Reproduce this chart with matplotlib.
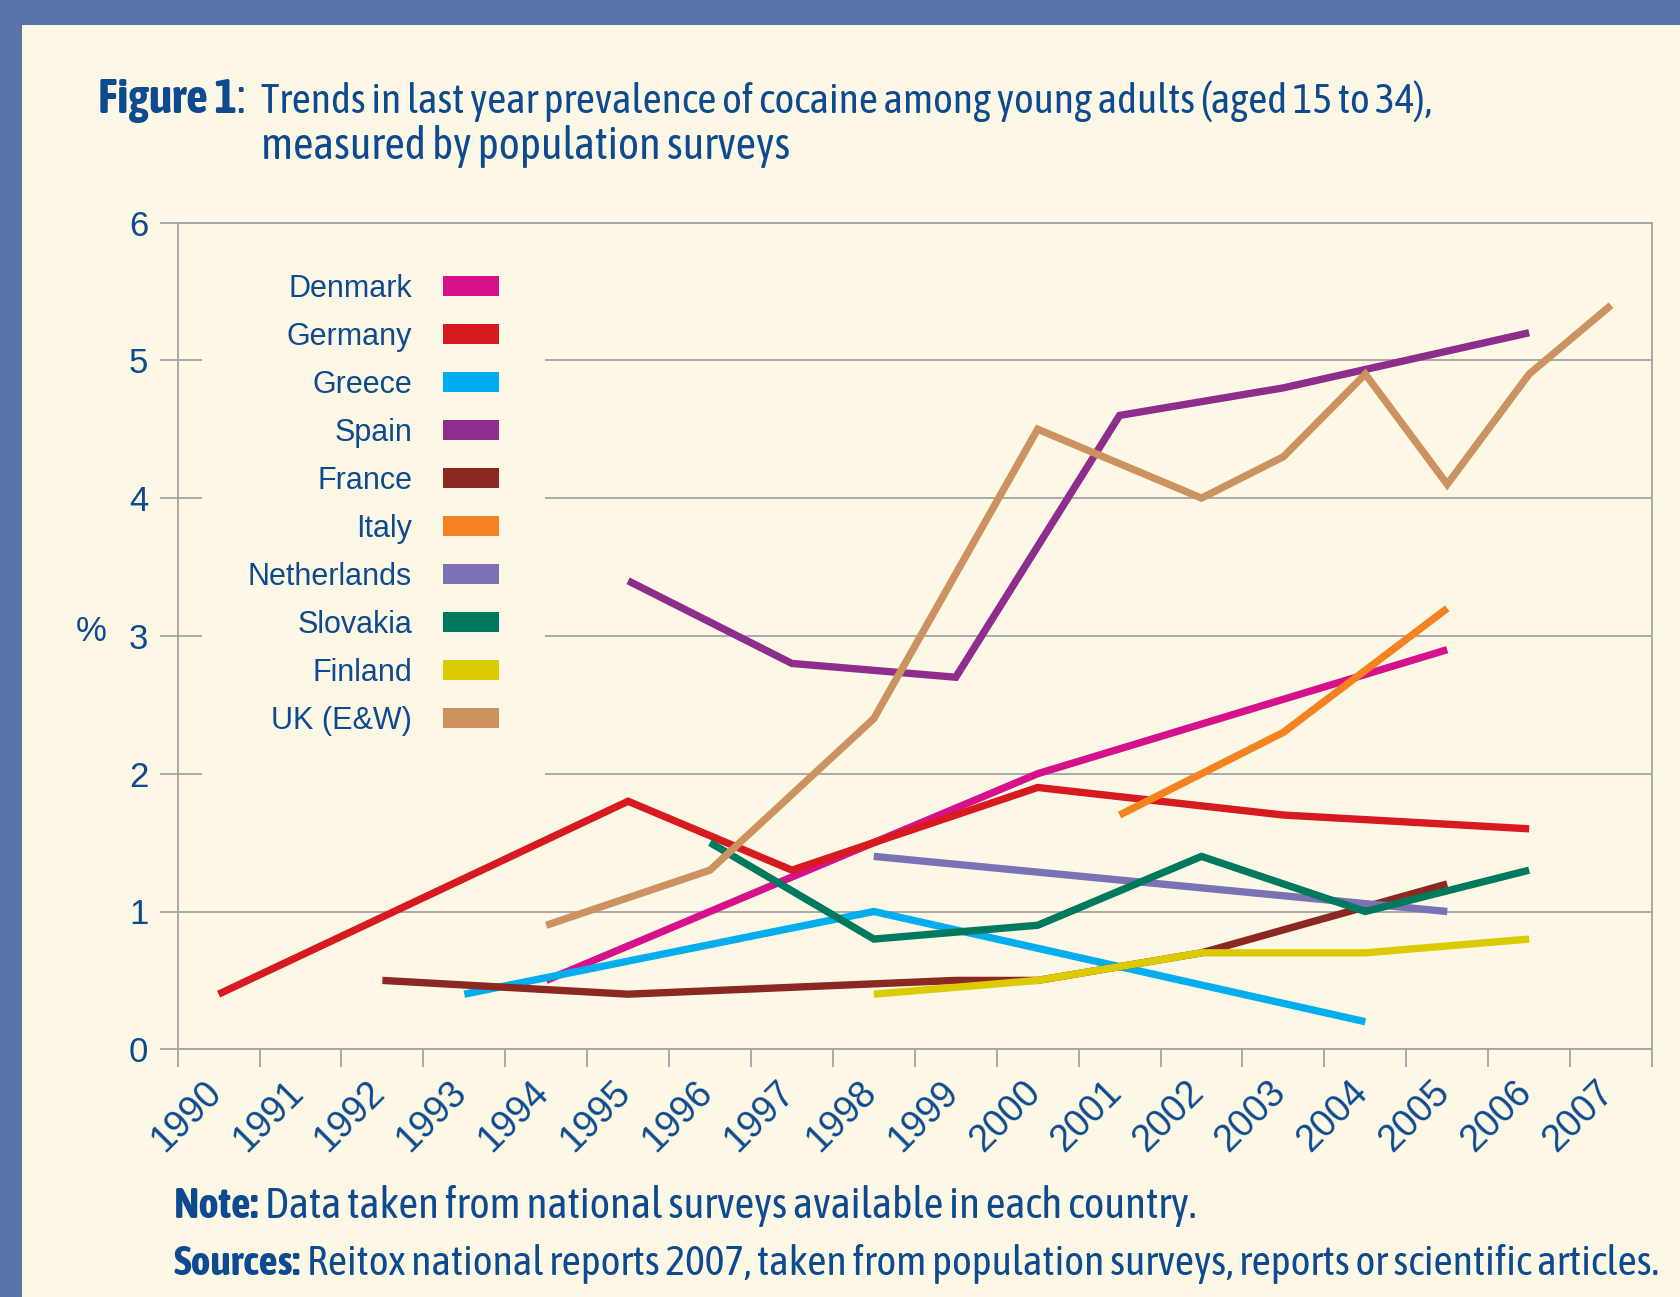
import matplotlib
matplotlib.use('Agg')
import matplotlib.pyplot as plt
from matplotlib import font_manager as fm
from matplotlib.patches import Patch, Rectangle
from matplotlib.transforms import ScaledTranslation

# x axis categories
years = list(range(1990, 2008))
y_ticks = [0, 1, 2, 3, 4, 5, 6]

countries = ['Denmark', 'Germany', 'Greece', 'Spain', 'France', 'Italy',
             'Netherlands', 'Slovakia', 'Finland', 'UK (E&W)']

# survey years and last year prevalence (%) per country
denmark_years = [1994, 2000, 2005]
denmark = [0.5, 2.0, 2.9]
germany_years = [1990, 1995, 1997, 2000, 2003, 2006]
germany = [0.4, 1.8, 1.3, 1.9, 1.7, 1.6]
greece_years = [1993, 1998, 2004]
greece = [0.4, 1.0, 0.2]
spain_years = [1995, 1997, 1999, 2001, 2003, 2006]
spain = [3.4, 2.8, 2.7, 4.6, 4.8, 5.2]
france_years = [1992, 1995, 1999, 2000, 2002, 2005]
france = [0.5, 0.4, 0.5, 0.5, 0.7, 1.2]
italy_years = [2001, 2003, 2005]
italy = [1.7, 2.3, 3.2]
netherlands_years = [1998, 2005]
netherlands = [1.4, 1.0]
slovakia_years = [1996, 1998, 2000, 2002, 2004, 2006]
slovakia = [1.5, 0.8, 0.9, 1.4, 1.0, 1.3]
finland_years = [1998, 2000, 2002, 2004, 2006]
finland = [0.4, 0.5, 0.7, 0.7, 0.8]
uk_years = [1994, 1996, 1998, 2000, 2002, 2003, 2004, 2005, 2006, 2007]
uk = [0.9, 1.3, 2.4, 4.5, 4.0, 4.3, 4.9, 4.1, 4.9, 5.4]

series = [(denmark_years, denmark), (germany_years, germany),
          (greece_years, greece), (spain_years, spain),
          (france_years, france), (italy_years, italy),
          (netherlands_years, netherlands), (slovakia_years, slovakia),
          (finland_years, finland), (uk_years, uk)]

colors = ['#d7108c', '#d71920', '#00aeef', '#8e2d8b', '#8b2822',
          '#f58220', '#7a72b5', '#007a5e', '#dccb00', '#cc9360']

CREAM = '#fdf8e5'
BORDER = '#5a74a9'
TEXT = '#0d4a8f'
GRID = '#a3a3a3'
REGULAR = ['Liberation Sans', 'DejaVu Sans']


def weight_of(f):
    w = f.weight
    return w if isinstance(w, int) else fm.weight_dict.get(w, 400)


# the title and notes use a condensed face; take one if the system has it
faces = [f for f in fm.fontManager.ttflist
         if ('Narrow' in f.name or 'Condensed' in f.name) and f.style == 'normal']
reg_names = sorted({f.name for f in faces if 380 <= weight_of(f) < 600})
bold_names = sorted({f.name for f in faces if weight_of(f) >= 600})
both = [n for n in reg_names if n in bold_names]
if both:
    NARROW_REG, NARROW_BOLD = [both[0]], [both[0]]
else:
    NARROW_REG = [reg_names[0]] if reg_names else REGULAR
    NARROW_BOLD = [bold_names[0]] if bold_names else REGULAR

W, H = 1681, 1297
fig = plt.figure(figsize=(W / 100, H / 100), dpi=100, facecolor=BORDER)
fig.patches.append(Rectangle((22 / W, 0), 1, 1 - 25 / H, transform=fig.transFigure,
                             facecolor=CREAM, edgecolor='none', zorder=-1))

ax = fig.add_axes([177.6 / W, 1 - 1049.3 / H, (1652 - 177.6) / W, (1049.3 - 222.5) / H])
ax.set_facecolor(CREAM)

for (xs, ys), color in zip(series, colors):
    ax.plot(xs, ys, color=color, lw=5.3, solid_capstyle='butt',
            solid_joinstyle='miter', zorder=3)

ax.set_xlim(years[0] - 0.5, years[-1] + 0.5)
ax.set_ylim(0, 6)
ax.set_xticks(years)
ax.set_xticklabels([str(y) for y in years], family=REGULAR, fontsize=27, color=TEXT)
ax.set_xticks([y - 0.5 for y in years] + [years[-1] + 0.5], minor=True)
ax.tick_params(axis='x', which='major', length=0, pad=27)
ax.tick_params(axis='x', which='minor', length=13, width=1.3, color=GRID)
shift = ScaledTranslation(-3 / 100, 0, fig.dpi_scale_trans)
for lbl in ax.get_xticklabels():
    lbl.set_rotation(45)
    lbl.set_ha('right')
    lbl.set_va('center')
    lbl.set_rotation_mode('anchor')
    lbl.set_transform(lbl.get_transform() + shift)

ax.set_yticks(y_ticks)
ax.set_yticklabels([str(v) for v in y_ticks], family=REGULAR, fontsize=25, color=TEXT)
ax.tick_params(axis='y', length=13, width=1.3, color=GRID, pad=8)
ax.grid(axis='y', color=GRID, lw=1.3)
ax.set_axisbelow(True)
for sp in ax.spines.values():
    sp.set_color(GRID)
    sp.set_linewidth(1.3)
# the corner ticks at the origin are dark in the original
ax.xaxis.get_minor_ticks()[0].tick1line.set_color('#222222')
ax.yaxis.get_major_ticks()[0].tick1line.set_color('#222222')

fs_px = 22 * 100 / 72
handles = [Patch(facecolor=c, edgecolor='none') for c in colors]
leg = ax.legend(handles, countries, loc='upper right',
                bbox_to_anchor=(545 / W, 1 - 228 / H), bbox_transform=fig.transFigure,
                markerfirst=False, frameon=True, facecolor=CREAM, edgecolor='none',
                framealpha=1, fancybox=False, borderpad=1.5, borderaxespad=0,
                handlelength=56 / fs_px, handleheight=19 / fs_px,
                handletextpad=31 / fs_px, labelspacing=0.59,
                prop={'family': REGULAR, 'size': 22}, labelcolor=TEXT)
leg.set_zorder(1.5)

fig.text(91.5 / W, 1 - 631.6 / H, '%', ha='center', va='center',
         family=REGULAR, fontsize=25, color=TEXT)

renderer = fig.canvas.get_renderer()


def line(x, y, parts, width, size=27):
    """Write (text, bold) pieces on one baseline, scaled to span `width` pixels."""
    texts = []
    for s, bold in parts:
        texts.append(fig.text(0, 1 - y / H, s, fontweight='bold' if bold else 'normal',
                              family=NARROW_BOLD if bold else NARROW_REG,
                              fontsize=size, color=TEXT, va='baseline'))
    total = sum(t.get_window_extent(renderer).width for t in texts)
    size = size * width / total
    cx = x
    for t in texts:
        t.set_fontsize(size)
        t.set_x(cx / W)
        cx += t.get_window_extent(renderer).width
    return size


line(97.6, 113, [('Figure 1', True), (':', False)], 245 - 97.6)
line(261, 113, [('Trends in last year prevalence of cocaine among young adults (aged 15 to 34),', False)], 1173)
line(261, 159, [('measured by population surveys', False)], 530)
line(174, 1218, [('Note:', True), (' Data taken from national surveys available in each country.', False)], 1026)
line(174, 1275, [('Sources:', True),
                 (' Reitox national reports 2007, taken from population surveys, reports or scientific articles.', False)],
     1491)

fig.savefig('out.png', dpi=100, facecolor=BORDER)
